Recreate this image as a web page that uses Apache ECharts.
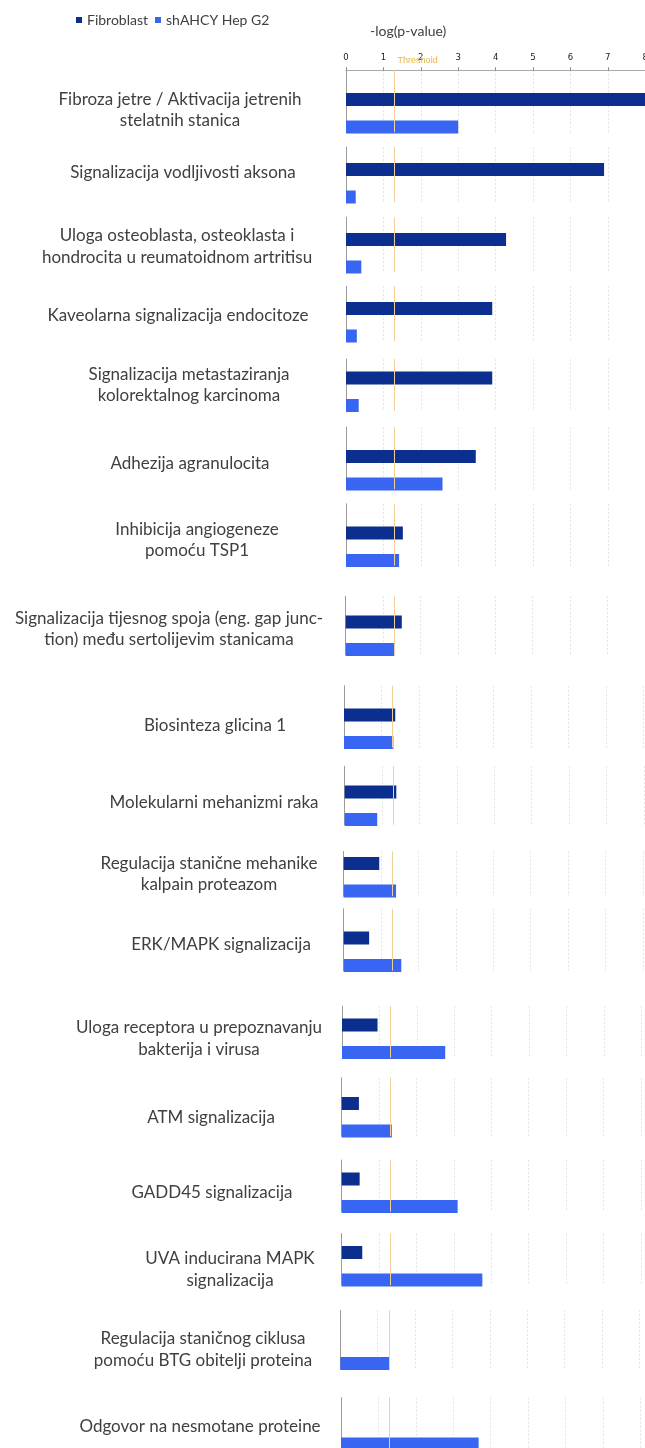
<!DOCTYPE html>
<html>
<head>
<meta charset="utf-8">
<script src="https://cdn.jsdelivr.net/npm/echarts@6/dist/echarts.min.js"></script>
<style>
html,body{margin:0;padding:0;background:#fff;}
#chart{width:645px;height:1448px;}
</style>
</head>
<body>
<div id="chart"></div>
<script>
// ---- data ----
const categories = [
  'Fibroza jetre / Aktivacija jetrenih\nstelatnih stanica',
  'Signalizacija vodljivosti aksona',
  'Uloga osteoblasta, osteoklasta i\nhondrocita u reumatoidnom artritisu',
  'Kaveolarna signalizacija endocitoze',
  'Signalizacija metastaziranja\nkolorektalnog karcinoma',
  'Adhezija agranulocita',
  'Inhibicija angiogeneze\npomoću TSP1',
  'Signalizacija tijesnog spoja (eng. gap junc-\ntion) među sertolijevim stanicama',
  'Biosinteza glicina 1',
  'Molekularni mehanizmi raka',
  'Regulacija stanične mehanike\nkalpain proteazom',
  'ERK/MAPK signalizacija',
  'Uloga receptora u prepoznavanju\nbakterija i virusa',
  'ATM signalizacija',
  'GADD45 signalizacija',
  'UVA inducirana MAPK\nsignalizacija',
  'Regulacija staničnog ciklusa\npomoću BTG obitelji proteina',
  'Odgovor na nesmotane proteine'
];
const fibroblast = [8.1, 6.9, 4.28, 3.91, 3.91, 3.47, 1.52, 1.50, 1.37, 1.38, 0.95, 0.68, 0.95, 0.46, 0.48, 0.55, null, null];
const shAHCY     = [3.0, 0.26, 0.41, 0.29, 0.34, 2.58, 1.42, 1.30, 1.32, 0.87, 1.40, 1.54, 2.76, 1.34, 3.10, 3.76, 1.31, 3.68];
const seriesNames = ['Fibroblast', 'shAHCY Hep G2'];
const xTickMin = 0, xTickMax = 8, xTickStep = 1;
const threshold = 1.3;
const axisTitle = '-log(p-value)';

// ---- layout (pixels) ----
const axisStartY = [69,148,217,287,358,429,505,595,685,767,850,910,1005,1077,1160,1233,1310,1397];
const fibCenterY = [99.5,169.5,239.5,308.5,378,456.5,533,622,715,792,863.5,938,1025,1103.5,1179,1252.5,1336,1416.5];
const axisX      = [346,346,346,346,346,346,346,345.7,344,344.7,343.7,343.7,342,341.7,341.7,341.7,340.3,341];
const labelCX    = [180,183,177,178,189,190,197,169,215,214,209,221,199,211,212,230,203,200];
const labelDY    = [-4.5,-11.5,-6,-6.5,-8.5,-8.5,-7,-8,-5,-2,-4,-6,-1,0,0,3,-1,-3];
const band = 27.5 / 8, pxPerUnit = 37.4, barW = 13;
const colors = ['#0b2e8f', '#3866f2'];
const textColor = '#404040';
const labelFont = 'Lato';

const grids = [], xAxes = [], yAxes = [], series = [];
categories.forEach((name, i) => {
  const k = Math.max(0, Math.round((fibCenterY[i] - band / 2 - axisStartY[i]) / band));
  const n = k + 10;
  const top = fibCenterY[i] - band / 2 - k * band;
  grids.push({left: axisX[i], top: top, width: pxPerUnit * (xTickMax - xTickMin), height: n * band, outerBoundsMode: 'none', containLabel: false});
  const labelIdx = k + 4 + Math.round(labelDY[i] / band);
  const cats = [];
  for (let j = 0; j < n; j++) cats.push(j === labelIdx ? name : ' '.repeat(j + 1));
  yAxes.push({
    type: 'category', gridIndex: i, inverse: true, data: cats,
    axisLine: {show: true, lineStyle: {color: '#9c9c9c', width: 1}},
    axisTick: {show: false},
    splitLine: {show: false},
    axisLabel: {
      interval: 0, align: 'center', margin: axisX[i] - labelCX[i],
      fontFamily: labelFont, fontSize: 17, lineHeight: 21.5, color: textColor
    }
  });
  const first = i === 0;
  xAxes.push({
    type: 'value', gridIndex: i, position: 'top', min: xTickMin, max: xTickMax, interval: xTickStep,
    axisLine: {show: first, onZero: false, lineStyle: {color: '#a8a8a8'}},
    axisTick: {show: first, length: 3, lineStyle: {color: '#888'}},
    axisLabel: {show: first, fontSize: 8.5, color: '#222', margin: 8, fontFamily: 'DejaVu Sans'},
    splitLine: {show: true, lineStyle: {color: '#e4e4e4', width: 1, type: [2, 2]}}
  });
  const fibData = new Array(n).fill('-');
  const shData = new Array(n).fill('-');
  if (fibroblast[i] != null) fibData[k] = fibroblast[i];
  if (shAHCY[i] != null) shData[k + 8] = shAHCY[i];
  series.push({
    type: 'bar', name: seriesNames[0], xAxisIndex: i, yAxisIndex: i, data: fibData,
    barWidth: barW, barGap: '-100%', clip: false, itemStyle: {color: colors[0]}, z: 2
  });
  series.push({
    type: 'bar', name: seriesNames[1], xAxisIndex: i, yAxisIndex: i, data: shData,
    barWidth: barW, barGap: '-100%', clip: false, itemStyle: {color: colors[1]}, z: 2,
    markLine: {
      silent: true, symbol: 'none', animation: false,
      lineStyle: {color: '#f1cf98', width: 1, type: 'solid'},
      label: first ? {show: true, formatter: 'Threshold', position: 'start', fontSize: 9, color: '#e6b54c', padding: [0, 0, 0, 46], distance: 5} : {show: false},
      data: [{xAxis: threshold}]
    }
  });
});

const chart = echarts.init(document.getElementById('chart'), null, {renderer: 'canvas'});
chart.setOption({
  animation: false,
  backgroundColor: '#fff',
  color: colors,
  title: {text: axisTitle, left: 365, top: 19, textStyle: {fontFamily: labelFont, fontSize: 14, fontWeight: 'normal', color: textColor}},
  legend: {
    data: seriesNames, left: 71, top: 8, icon: 'rect', itemWidth: 6, itemHeight: 6, itemGap: 7,
    textStyle: {fontFamily: labelFont, fontSize: 14, color: textColor}
  },
  grid: grids, xAxis: xAxes, yAxis: yAxes, series: series
});
</script>
</body>
</html>
